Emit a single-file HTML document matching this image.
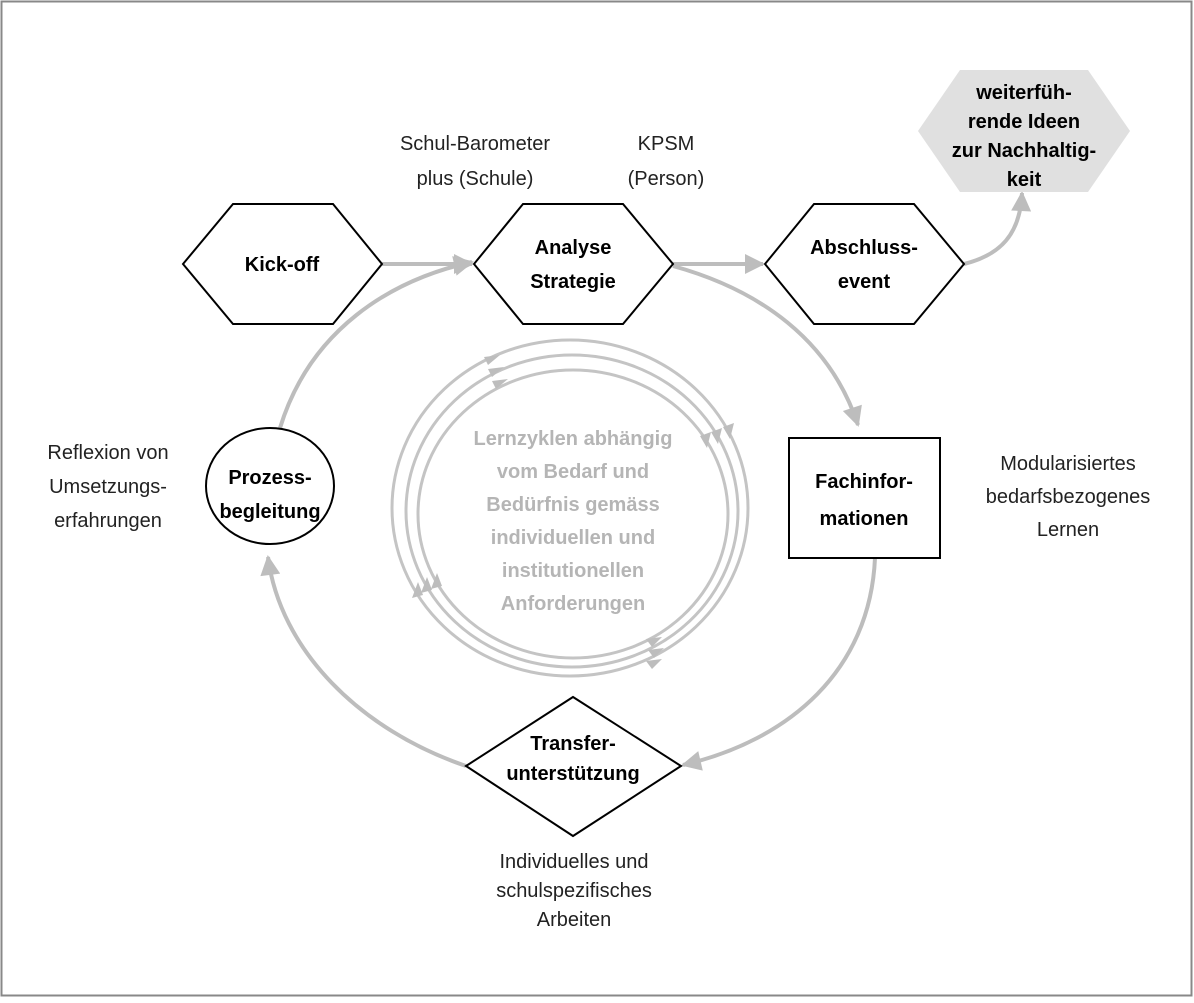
<!DOCTYPE html>
<html><head><meta charset="utf-8"><style>
html,body{margin:0;padding:0;background:#fff}
svg text{font-family:"Liberation Sans Narrow","Liberation Sans",sans-serif;font-size:20px;text-anchor:middle}
.b{font-weight:bold;fill:#000}
.g{font-weight:bold;fill:#b5b5b5}
.n{fill:#222}
</style></head><body>
<svg width="1194" height="998" viewBox="0 0 1194 998" xmlns="http://www.w3.org/2000/svg">
<defs>
<marker id="A" viewBox="0 0 10 10" refX="9" refY="5" markerWidth="6" markerHeight="5" orient="auto"><path d="M0,0L10,5L0,10z" fill="#bdbdbd"/></marker>
</defs>
<rect x="1.5" y="1.5" width="1190" height="994" fill="#fff" stroke="#888" stroke-width="2"/>
<g fill="none" stroke="#bdbdbd" stroke-width="4" marker-end="url(#A)">
<path d="M382,264L472,264"/>
<path d="M673,264L763,264"/>
<path d="M964,264C1000,255 1020,235 1022,193"/>
<path d="M673,266C760,290 830,340 858,425"/>
<path d="M875,558C870,670 790,740 683,765"/>
<path d="M466,766C360,730 280,650 268,557"/>
<path d="M280,428C310,330 390,280 472,262"/>
</g>
<g fill="none" stroke="#c4c4c4" stroke-width="3">
<ellipse cx="570" cy="508" rx="178" ry="168"/>
<ellipse cx="572" cy="511" rx="166" ry="156"/>
<ellipse cx="573" cy="514" rx="155" ry="144"/>
</g>
<g fill="#bdbdbd">
<path d="M484,357l16,-2l-12,10z"/><path d="M488,369l16,-2l-12,10z"/><path d="M492,381l16,-2l-12,10z"/>
<path d="M734,423l-4,16l-7,-12z"/><path d="M722,428l-4,16l-7,-12z"/><path d="M711,432l-4,16l-7,-12z"/>
<path d="M646,661l16,-2l-10,10z"/><path d="M648,650l16,-2l-10,10z"/><path d="M646,639l16,-2l-10,10z"/>
<path d="M412,598l6,-16l5,13z"/><path d="M421,593l6,-16l5,13z"/><path d="M431,589l6,-16l5,13z"/>
</g>
<g fill="#fff" stroke="#000" stroke-width="2">
<polygon points="183,264 233,204 333,204 382,264 333,324 233,324"/>
<polygon points="474,264 523,204 623,204 673,264 623,324 523,324"/>
<polygon points="765,264 814,204 914,204 964,264 914,324 814,324"/>
<rect x="789" y="438" width="151" height="120"/>
<polygon points="466,766 573,697 681,766 573,836"/>
<ellipse cx="270" cy="486" rx="64" ry="58"/>
</g>
<polygon points="918,131 960,70 1088,70 1130,131 1088,192 960,192" fill="#e0e0e0"/>
<text class="b" x="282" y="271">Kick-off</text>
<text class="b" x="573" y="254">Analyse</text>
<text class="b" x="573" y="288">Strategie</text>
<text class="b" x="864" y="254">Abschluss-</text>
<text class="b" x="864" y="288">event</text>
<text class="b" x="1024" y="99">weiterfüh-</text>
<text class="b" x="1024" y="128">rende Ideen</text>
<text class="b" x="1024" y="157">zur Nachhaltig-</text>
<text class="b" x="1024" y="186">keit</text>
<text class="b" x="864" y="488">Fachinfor-</text>
<text class="b" x="864" y="525">mationen</text>
<text class="b" x="573" y="750">Transfer-</text>
<text class="b" x="573" y="780">unterstützung</text>
<text class="b" x="270" y="484">Prozess-</text>
<text class="b" x="270" y="518">begleitung</text>
<text class="n" x="475" y="150">Schul-Barometer</text>
<text class="n" x="475" y="185">plus (Schule)</text>
<text class="n" x="666" y="150">KPSM</text>
<text class="n" x="666" y="185">(Person)</text>
<text class="n" x="108" y="459">Reflexion von</text>
<text class="n" x="108" y="493">Umsetzungs-</text>
<text class="n" x="108" y="527">erfahrungen</text>
<text class="n" x="1068" y="470">Modularisiertes</text>
<text class="n" x="1068" y="503">bedarfsbezogenes</text>
<text class="n" x="1068" y="536">Lernen</text>
<text class="n" x="574" y="868">Individuelles und</text>
<text class="n" x="574" y="897">schulspezifisches</text>
<text class="n" x="574" y="926">Arbeiten</text>
<text class="g" x="573" y="445">Lernzyklen abhängig</text>
<text class="g" x="573" y="478">vom Bedarf und</text>
<text class="g" x="573" y="511">Bedürfnis gemäss</text>
<text class="g" x="573" y="544">individuellen und</text>
<text class="g" x="573" y="577">institutionellen</text>
<text class="g" x="573" y="610">Anforderungen</text>
</svg>
</body></html>
